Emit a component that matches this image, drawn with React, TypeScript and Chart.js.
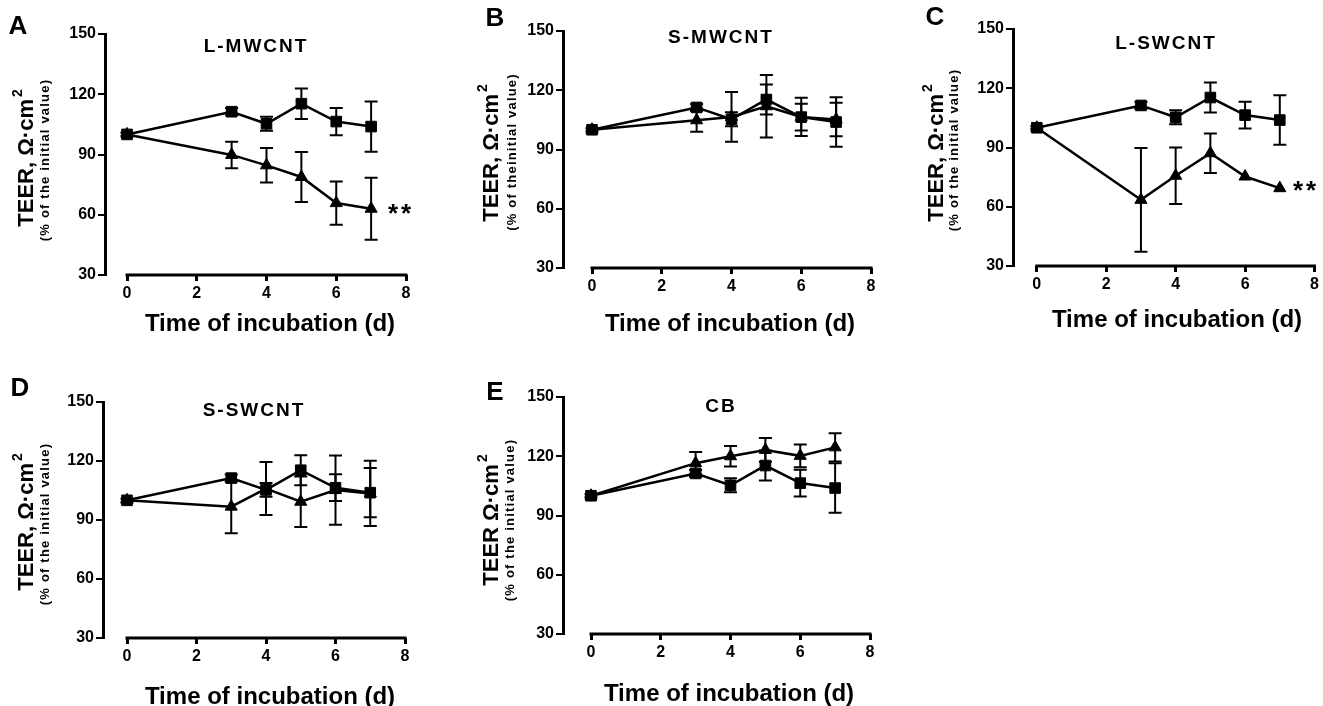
import React, { useEffect, useRef } from "react";
import { Chart, registerables } from "chart.js";

Chart.register(...registerables);

// ---------------- DATA ----------------
const days = [0, 3, 4, 5, 6, 7];
const xTickValues = [0, 2, 4, 6, 8];
const yTickValues = [30, 60, 90, 120, 150];

const controlMean = [100, 111.3, 105.3, 115.3, 106.4, 103.9];
const controlErr = [0.8, 1.8, 3.5, 7.6, 6.8, 12.5];

const lmwcntMean = [100, 89.8, 84.6, 78.8, 65.8, 63.0];
const lmwcntErr = [0, 6.6, 8.6, 12.4, 10.8, 15.4];

const smwcntMean = [100, 104.8, 106.5, 111.9, 106.5, 105.2];
const smwcntErr = [0, 5.8, 12.6, 15.8, 9.7, 8.5];

const lswcntMean = [100, 63.5, 75.7, 87.1, 75.3, 69.4];
const lswcntErr = [0, 26.3, 14.3, 10.0, 0, 0];

const sswcntMean = [100, 96.8, 106.0, 99.3, 105.2, 103.5];
const sswcntErr = [0, 13.5, 13.5, 12.8, 17.6, 16.6];

const cbMean = [100, 116.5, 120.0, 123.2, 120.2, 124.5];
const cbErr = [0, 5.6, 5.2, 6.0, 5.8, 7.2];

const treatedMeans = [lmwcntMean, smwcntMean, lswcntMean, sswcntMean, cbMean];
const treatedErrs = [lmwcntErr, smwcntErr, lswcntErr, sswcntErr, cbErr];

const panelLetters = ["A", "B", "C", "D", "E"];
const panelTitles = ["L-MWCNT", "S-MWCNT", "L-SWCNT", "S-SWCNT", "CB"];
const yTitles = ["TEER, Ω·cm", "TEER, Ω·cm", "TEER, Ω·cm", "TEER, Ω·cm", "TEER Ω·cm"];
const ySubtitles = [
  "(% of the initial value)",
  "(% of theinitial value)",
  "(% of the initial value)",
  "(% of the initial value)",
  "(% of the initial value)",
];
const xTitle = "Time of incubation (d)";
const significance = ["**", "", "**", "", ""];

// ---------------- LAYOUT (page pixels) ----------------
const layouts = [
  { left: 0, top: 0, w: 440, h: 345, area: { l: 105, t: 34, r: 406, b: 275 }, x0: 127,
    letter: [18, 25], title: [255, 45], yTitle: [25, 158], ySub: [45, 160], xT: [270, 322], star: [388, 211] },
  { left: 440, top: 0, w: 440, h: 345, area: { l: 563, t: 31, r: 871, b: 268 }, x0: 592,
    letter: [495, 17], title: [720, 36], yTitle: [490, 153], ySub: [512, 152], xT: [730, 322], star: [0, 0] },
  { left: 880, top: 0, w: 443, h: 345, area: { l: 1013, t: 29, r: 1317, b: 266 }, x0: 1037,
    letter: [935, 16], title: [1165, 42], yTitle: [935, 153], ySub: [954, 150], xT: [1177, 318], star: [1293, 188] },
  { left: 0, top: 345, w: 440, h: 361, area: { l: 103, t: 402, r: 405, b: 638 }, x0: 127,
    letter: [20, 387], title: [253, 409], yTitle: [25, 522], ySub: [45, 524], xT: [270, 695], star: [0, 0] },
  { left: 440, top: 345, w: 440, h: 361, area: { l: 563, t: 397, r: 870, b: 634 }, x0: 591,
    letter: [495, 391], title: [720, 405], yTitle: [490, 520], ySub: [510, 520], xT: [729, 692], star: [0, 0] },
];

const FONT = "'Liberation Sans', Arial, Helvetica, sans-serif";
const Y_AXIS_W = 50;
const X_AXIS_H = 30;

const errorBarPlugin = {
  id: "errorBars",
  afterDatasetsDraw(chart: any) {
    const ctx = chart.ctx;
    const xs = chart.scales.x;
    const ys = chart.scales.y;
    ctx.save();
    ctx.strokeStyle = "#000";
    ctx.lineWidth = 2;
    chart.data.datasets.forEach((ds: any) => {
      const errs = ds.errors;
      if (!errs) return;
      ds.data.forEach((p: any, i: number) => {
        const e = errs[i];
        if (!e) return;
        const x = xs.getPixelForValue(p.x);
        const yTop = ys.getPixelForValue(p.y + e);
        const yBot = ys.getPixelForValue(p.y - e);
        ctx.beginPath();
        ctx.moveTo(x, yTop);
        ctx.lineTo(x, yBot);
        ctx.moveTo(x - 6.5, yTop);
        ctx.lineTo(x + 6.5, yTop);
        ctx.moveTo(x - 6.5, yBot);
        ctx.lineTo(x + 6.5, yBot);
        ctx.stroke();
      });
    });
    ctx.restore();
  },
};

function makeTextPlugin(idx: number) {
  const L = layouts[idx];
  return {
    id: "panelText" + idx,
    afterDraw(chart: any) {
      const ctx = chart.ctx;
      const ox = L.left;
      const oy = L.top;
      const xs = chart.scales.x;
      ctx.save();
      ctx.fillStyle = "#000";
      ctx.strokeStyle = "#000";

      // offset x axis line (GraphPad style)
      const yb = chart.chartArea.bottom;
      ctx.lineWidth = 3;
      ctx.beginPath();
      ctx.moveTo(xs.getPixelForValue(xTickValues[0]) - 1.5, yb);
      ctx.lineTo(xs.getPixelForValue(xTickValues[xTickValues.length - 1]) + 1.5, yb);
      ctx.stroke();

      // panel letter
      ctx.textAlign = "center";
      ctx.textBaseline = "alphabetic";
      ctx.font = `bold 26px ${FONT}`;
      ctx.fillText(panelLetters[idx], L.letter[0] - ox, L.letter[1] - oy + 9.3);

      // panel title
      ctx.font = `bold 19px ${FONT}`;
      (ctx as any).letterSpacing = "2px";
      ctx.fillText(panelTitles[idx], L.title[0] - ox + 1, L.title[1] - oy + 6.8);
      (ctx as any).letterSpacing = "0px";

      // x title
      ctx.font = `bold 24px ${FONT}`;
      ctx.fillText(xTitle, L.xT[0] - ox, L.xT[1] - oy + 8.6);

      // significance stars
      if (significance[idx]) {
        ctx.textAlign = "left";
        ctx.font = `bold 26px ${FONT}`;
        (ctx as any).letterSpacing = "3px";
        ctx.fillText(significance[idx], L.star[0] - ox, L.star[1] - oy + 11);
        (ctx as any).letterSpacing = "0px";
      }

      // y title (rotated) with superscript
      ctx.save();
      ctx.translate(L.yTitle[0] - ox, L.yTitle[1] - oy);
      ctx.rotate(-Math.PI / 2);
      ctx.textAlign = "left";
      ctx.font = `bold 22px ${FONT}`;
      const main = yTitles[idx];
      const w1 = ctx.measureText(main).width;
      ctx.font = `bold 14px ${FONT}`;
      const w2 = ctx.measureText("2").width;
      const total = w1 + w2 + 2;
      ctx.font = `bold 22px ${FONT}`;
      ctx.fillText(main, -total / 2, 7.9);
      ctx.font = `bold 14px ${FONT}`;
      ctx.fillText("2", -total / 2 + w1 + 2, -3);
      ctx.restore();

      // y subtitle (rotated)
      ctx.save();
      ctx.translate(L.ySub[0] - ox, L.ySub[1] - oy);
      ctx.rotate(-Math.PI / 2);
      ctx.textAlign = "center";
      ctx.font = `bold 13px ${FONT}`;
      (ctx as any).letterSpacing = "1.2px";
      ctx.fillText(ySubtitles[idx], 0, 4);
      (ctx as any).letterSpacing = "0px";
      ctx.restore();

      ctx.restore();
    },
  };
}

function Panel({ idx }: { idx: number }) {
  const ref = useRef<HTMLCanvasElement | null>(null);
  const L = layouts[idx];

  useEffect(() => {
    if (!ref.current) return;
    const a = L.area;
    const unit = (a.r - L.x0) / (xTickValues[xTickValues.length - 1] - xTickValues[0]);
    const xMin = xTickValues[0] - (L.x0 - a.l) / unit;
    const tickFont = { family: FONT, size: 16, weight: "bold" as const };

    const chart = new Chart(ref.current, {
      type: "line",
      data: {
        datasets: [
          {
            label: "Control",
            data: days.map((d, i) => ({ x: d, y: controlMean[i] })),
            errors: controlErr,
            borderColor: "#000",
            backgroundColor: "#000",
            borderWidth: 2.5,
            pointStyle: "rect",
            pointRadius: 7.5,
            pointBackgroundColor: "#000",
            pointBorderColor: "#000",
            pointBorderWidth: 1,
            tension: 0,
            clip: false,
          } as any,
          {
            label: panelTitles[idx],
            data: days.map((d, i) => ({ x: d, y: treatedMeans[idx][i] })),
            errors: treatedErrs[idx],
            borderColor: "#000",
            backgroundColor: "#000",
            borderWidth: 2.5,
            pointStyle: "triangle",
            pointRadius: 7,
            pointBackgroundColor: "#000",
            pointBorderColor: "#000",
            pointBorderWidth: 1,
            tension: 0,
            clip: false,
          } as any,
        ],
      },
      options: {
        animation: false,
        responsive: false,
        maintainAspectRatio: false,
        devicePixelRatio: 1,
        layout: {
          padding: {
            left: a.l - L.left - Y_AXIS_W,
            top: a.t - L.top,
            right: L.left + L.w - a.r,
            bottom: L.top + L.h - a.b - X_AXIS_H,
          },
        },
        plugins: {
          legend: { display: false },
          tooltip: { enabled: false },
          title: { display: false },
        },
        scales: {
          x: {
            type: "linear",
            min: xMin,
            max: xTickValues[xTickValues.length - 1],
            afterBuildTicks: (s: any) => {
              s.ticks = xTickValues.map((v) => ({ value: v }));
            },
            afterFit: (s: any) => {
              s.height = X_AXIS_H;
            },
            border: { display: false },
            grid: {
              display: true,
              drawOnChartArea: false,
              drawTicks: true,
              tickLength: 6,
              lineWidth: 3,
              color: "#000",
            },
            ticks: {
              color: "#000",
              font: tickFont,
              padding: 3,
              maxRotation: 0,
              autoSkip: false,
            },
          },
          y: {
            type: "linear",
            min: yTickValues[0],
            max: yTickValues[yTickValues.length - 1],
            afterBuildTicks: (s: any) => {
              s.ticks = yTickValues.map((v) => ({ value: v }));
            },
            afterFit: (s: any) => {
              s.width = Y_AXIS_W;
            },
            border: { display: true, color: "#000", width: 3 },
            grid: {
              display: true,
              drawOnChartArea: false,
              drawTicks: true,
              tickLength: 7,
              lineWidth: 2,
              color: "#000",
            },
            ticks: {
              color: "#000",
              font: tickFont,
              padding: 2,
              autoSkip: false,
            },
          },
        },
      } as any,
      plugins: [errorBarPlugin, makeTextPlugin(idx)],
    });
    return () => chart.destroy();
  }, [idx]);

  return (
    <canvas
      ref={ref}
      width={L.w}
      height={L.h}
      style={{ position: "absolute", left: L.left, top: L.top, width: L.w, height: L.h }}
    />
  );
}

export default function App() {
  return (
    <div
      style={{
        position: "absolute",
        left: 0,
        top: 0,
        width: 1323,
        height: 706,
        background: "#fff",
        overflow: "hidden",
      }}
    >
      {layouts.map((_, i) => (
        <Panel key={i} idx={i} />
      ))}
    </div>
  );
}
